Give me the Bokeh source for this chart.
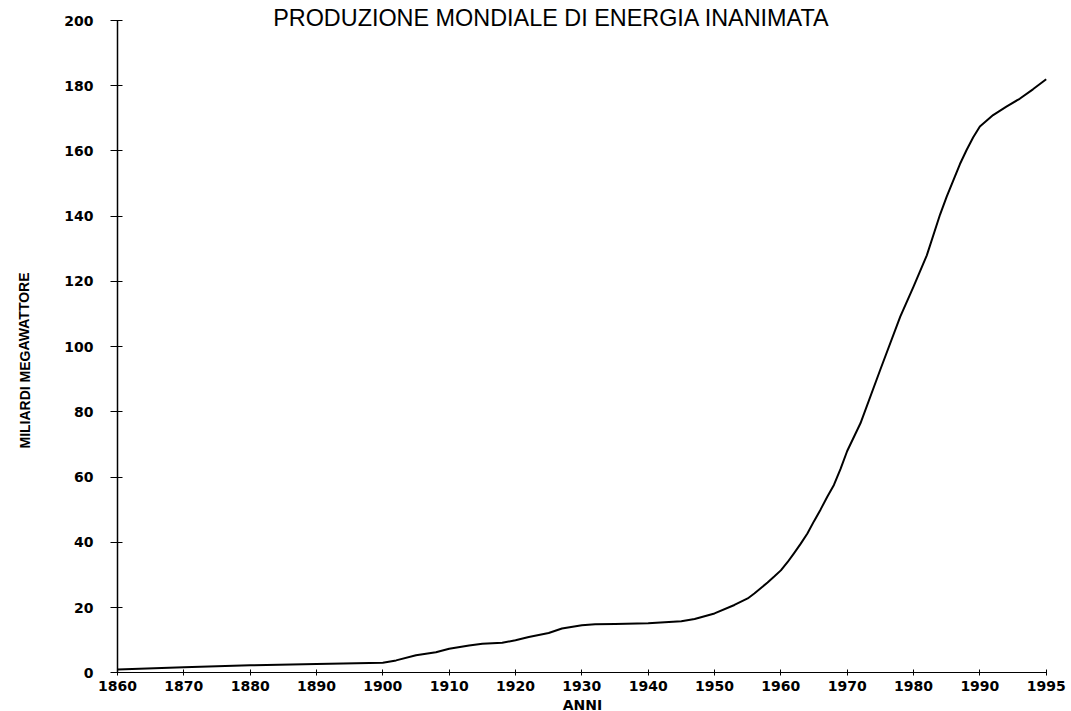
from bokeh.plotting import figure
from bokeh.models import Range1d, FixedTicker, Label
from bokeh.embed import file_html
from bokeh.resources import INLINE

# ---- data ----
years = [1860, 1870, 1880, 1890, 1900, 1902, 1905, 1908, 1910, 1913, 1915, 1918,
         1920, 1922, 1925, 1927, 1930, 1932, 1935, 1940, 1945, 1947, 1950, 1953,
         1955, 1956, 1958, 1959, 1960, 1961, 1962, 1963, 1964, 1965, 1966, 1967,
         1968, 1969, 1970, 1972, 1975, 1978, 1980, 1982, 1984, 1985, 1986, 1987,
         1988, 1989, 1990, 1991, 1992, 1993, 1994, 1995]
values = [1.0, 1.7, 2.3, 2.7, 3.1, 3.8, 5.4, 6.3, 7.4, 8.4, 8.9, 9.2,
          10.0, 11.0, 12.2, 13.6, 14.6, 14.9, 15.0, 15.2, 15.8, 16.5, 18.2, 20.8,
          22.8, 24.3, 27.7, 29.5, 31.4, 33.9, 36.7, 39.6, 42.7, 46.5, 50.1, 54.0,
          57.6, 62.5, 68.0, 76.5, 93.0, 109.2, 118.4, 128.0, 140.5, 146.0, 151.0, 156.0,
          160.3, 164.2, 167.5, 171.0, 173.6, 176.0, 178.9, 182.0]
tick_labels = ["1860", "1870", "1880", "1890", "1900", "1910", "1920", "1930",
               "1940", "1950", "1960", "1970", "1980", "1990", "1995"]
y_ticks = [0, 20, 40, 60, 80, 100, 120, 140, 160, 180, 200]

title_text = "PRODUZIONE MONDIALE DI ENERGIA INANIMATA"
x_title = "ANNI"
y_title = "MILIARDI MEGAWATTORE"

# category-axis position (equally spaced labels, last step is 5 years)
def pos(yr):
    return (yr - 1860) / 10 if yr <= 1990 else 13 + (yr - 1990) / 5

xs = [pos(y) for y in years]
tick_pos = [pos(int(t)) for t in tick_labels]

# ---- geometry: the frame covers the whole canvas, axes sit at fixed spots ----
W, H = 1071, 711
X0, X14 = 117.0, 1045.7      # pixel x of first / last category
Y0, Y200 = 672.3, 20.0       # pixel y of 0 / 200
kx = (X14 - X0) / 14.0
ky = (Y0 - Y200) / 200.0
def dx(px):
    return (px - X0) / kx
def dy(py):
    return (Y0 - py) / ky

p = figure(width=W, height=H, output_backend="svg", toolbar_location=None,
           x_range=Range1d(dx(0), dx(W)), y_range=Range1d(dy(H), dy(0)),
           min_border_left=0, min_border_right=0, min_border_top=0,
           min_border_bottom=0)
p.outline_line_color = None
p.xgrid.visible = False
p.ygrid.visible = False
p.background_fill_color = "white"
p.border_fill_color = "white"

p.line(xs, values, line_color="black", line_width=2, line_join="round")

# x axis
xa = p.xaxis[0]
xa.fixed_location = 0
xa.ticker = FixedTicker(ticks=tick_pos)
xa.bounds = (0, 14)
xa.major_label_overrides = {tp: lab for tp, lab in zip(tick_pos, tick_labels)}
xa.axis_line_color = "black"
xa.axis_line_width = 1
xa.major_tick_in = 3
xa.major_tick_out = 3
xa.minor_tick_line_color = None
xa.major_label_text_font = "DejaVu Sans"
xa.major_label_text_font_style = "bold"
xa.major_label_text_font_size = "14px"
xa.major_label_text_color = "black"
xa.major_label_standoff = 5

# y axis
ya = p.yaxis[0]
ya.fixed_location = 0
ya.ticker = FixedTicker(ticks=y_ticks)
ya.bounds = (0, 200)
ya.axis_line_color = "black"
ya.axis_line_width = 1.5
ya.major_tick_in = 5
ya.major_tick_out = 7
ya.minor_tick_line_color = None
ya.major_label_text_font = "DejaVu Sans"
ya.major_label_text_font_style = "bold"
ya.major_label_text_font_size = "14px"
ya.major_label_text_color = "black"
ya.major_label_standoff = 17

# main title
p.add_layout(Label(x=dx(551), y=dy(17), text=title_text,
                   text_font="Liberation Sans", text_font_size="23.4px",
                   text_align="center", text_baseline="middle",
                   text_color="black"))
# x title
p.add_layout(Label(x=dx(582), y=dy(704), text=x_title,
                   text_font="DejaVu Sans", text_font_style="bold",
                   text_font_size="14px", text_align="center",
                   text_baseline="middle", text_color="black"))
# y title
p.add_layout(Label(x=dx(24), y=dy(360), text=y_title, angle=1.5708,
                   text_font="Liberation Sans", text_font_style="bold",
                   text_font_size="14px", text_align="center",
                   text_baseline="middle", text_color="black"))

open("out.html", "w").write(file_html(p, INLINE))
